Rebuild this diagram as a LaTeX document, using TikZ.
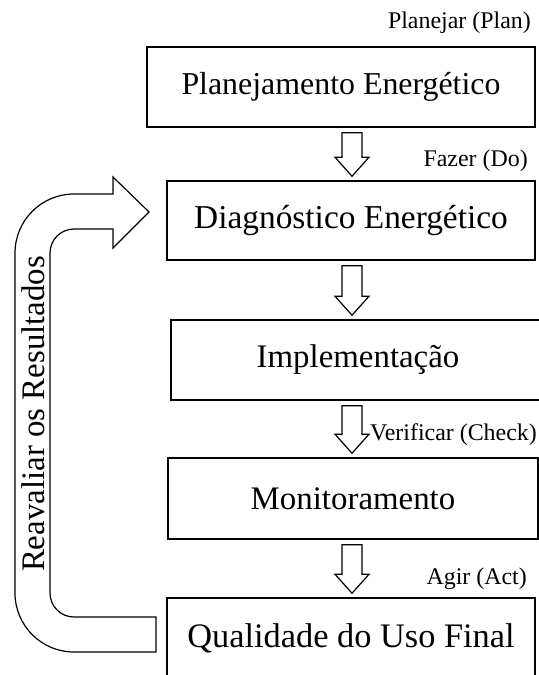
\documentclass[tikz,border=0pt]{standalone}
\usepackage{fontspec}
\setmainfont{Liberation Serif}
\usetikzlibrary{calc}

\tikzset{
    stage/.style={draw, line width=1.5bp, inner sep=0pt, font=\fontsize{33}{38}\selectfont},
    phase/.style={anchor=base east, inner sep=0pt, font=\fontsize{24}{28}\selectfont},
    blockline/.style={draw, line width=1.2bp, fill=white, line join=miter},
}

% hollow down arrow between two stages
\newcommand{\blockdown}[2]{%
    \draw[blockline]
        ($(#1.south -| ax)+(-10,5)$) -- ($(#2.north -| ax)+(-10,-23)$)
        -- ($(#2.north -| ax)+(-17,-23)$) -- ($(#2.north -| ax)+(0,-4)$)
        -- ($(#2.north -| ax)+(17,-23)$) -- ($(#2.north -| ax)+(10,-23)$)
        -- ($(#1.south -| ax)+(10,5)$) -- cycle;
}

\begin{document}
\begin{tikzpicture}[x=1bp, y=-1bp]

    \useasboundingbox (0,0) rectangle (539,675);
    \clip (0,0) rectangle (539,675);

    % ==========================================
    % 1. STAGES
    % ==========================================
    \node[stage, minimum width=388bp, minimum height=80bp, font=\fontsize{32}{36}\selectfont] (plan) at (341,87) {Planejamento Energético};
    \node[stage, minimum width=368bp, minimum height=79bp, font=\fontsize{33.5}{38}\selectfont] (diag) at (351,220.5) {Diagnóstico Energético};
    \node[stage, minimum width=374bp, minimum height=80bp] (impl) at (358,360) {Implementação};
    \node[stage, minimum width=370bp, minimum height=81bp] (moni) at (353,498.5) {Monitoramento};
    \node[stage, minimum width=368bp, minimum height=80bp, font=\fontsize{34.5}{38}\selectfont] (qual) at (351,638) {Qualidade do Uso Final};

    % ==========================================
    % 2. PDCA LABELS
    % ==========================================
    \node[phase] (lplan) at (531,29) {Planejar (Plan)};
    \node[phase] (ldo) at (528,166) {Fazer (Do)};
    \node[phase] (lcheck) at (537,440) {Verificar (Check)};
    \node[phase] (lact) at (527,584) {Agir (Act)};

    % ==========================================
    % 3. DOWN ARROWS
    % ==========================================
    \coordinate (ax) at (352,0);
    \blockdown{plan}{diag}
    \blockdown{diag}{impl}
    \blockdown{impl}{moni}
    \blockdown{moni}{qual}

    % ==========================================
    % 4. FEEDBACK ARROW
    % ==========================================
    \draw[blockline] (156,617) -- (74,617)
        arc[start angle=90, end angle=180, radius=24]
        -- (50,253)
        arc[start angle=180, end angle=270, radius=24]
        -- (113,229) -- (113,248) -- (149,212) -- (113,177) -- (113,194) -- (74,194)
        arc[start angle=270, end angle=180, radius=59]
        -- (15,593)
        arc[start angle=180, end angle=90, radius=59]
        -- (156,652) -- cycle;
    \node[rotate=90, inner sep=0pt, font=\fontsize{33}{36}\selectfont] (reval) at (33,414) {Reavaliar os Resultados};

\end{tikzpicture}
\end{document}
